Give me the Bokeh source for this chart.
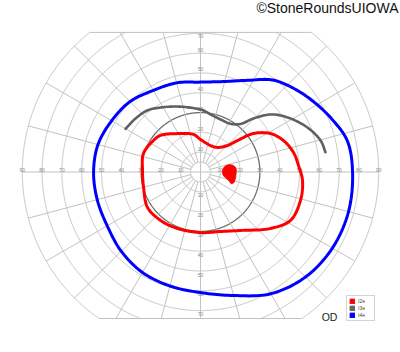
import numpy as np
from bokeh.plotting import figure
from bokeh.models import Range1d, Label, Legend, LegendItem
from bokeh.embed import file_html
from bokeh.resources import INLINE
from bokeh.core.properties import value

# ---------------- data ----------------
ring_ecc = [5, 10, 20, 40, 50, 60, 70, 80, 90]
dark_ring_ecc = [30]
meridians = list(range(0, 360, 15))
h_label_ecc = [10, 20, 30, 40, 50, 60, 70, 80, 90]
v_label_ecc = [10, 20, 30, 40, 50, 60, 70]
field_top = 70.5
field_bottom = -74.0

# I4e isopter (blue, closed): meridian in degrees, eccentricity in degrees
i4e_meridian = [0, 12, 22, 32, 42, 52, 62, 75, 90, 105, 120, 135, 150, 165, 180,
                195, 210, 225, 240, 255, 270, 285, 300, 315, 330, 345]
i4e_ecc = [76.8, 75.8, 71.5, 67.2, 63.2, 59.0, 52.5, 47.3, 45.4, 46.6, 47.6, 50.3, 51.8, 53.6, 54.0,
           54.0, 54.4, 56.6, 58.6, 59.6, 60.9, 64.6, 71.0, 75.0, 76.9, 77.4]

# I3e isopter (dark gray, open arc)
i3e_meridian = [9, 14.7, 22.6, 32.1, 39.4, 45.3, 50.2, 58, 69.1, 80, 87.2, 94.5, 109.6, 121.8, 130.9, 140.5, 150.1]
i3e_ecc = [63.9, 62.7, 58.5, 51.9, 45.8, 38.0, 31.6, 28.7, 28.4, 29.5, 31.1, 32.2, 35.1, 38.3, 41.1, 42.5, 43.7]

# I2e isopter (red, closed)
i2e_meridian = [3.8, 11.8, 20.8, 28.8, 36, 40.4, 44.5, 55.2, 69.3, 90, 100.6, 120.9, 137.6, 146.2, 162,
                178.5, 195.2, 213.8, 230.5, 247.9, 270, 288.6, 304.4, 321.1, 331.7, 344.1, 355.2]
i2e_ecc = [49.6, 48.0, 44.8, 40.3, 33.1, 24.5, 19.1, 15.1, 14.3, 16.4, 19.3, 22.6, 27.4, 28.6, 30.3,
           29.3, 29.8, 32.2, 31.7, 30.8, 30.6, 31.7, 35.8, 45.4, 51.6, 52.5, 51.7]

# blind spot (filled red), horizontal / vertical degrees
blind_x = [14.1, 16.7, 18.0, 17.9, 17.6, 16.7, 15.5, 14.6, 13.1, 11.6, 11.1, 12.1]
blind_y = [3.6, 3.2, 1.6, -1.3, -3.3, -5.5, -5.9, -4.8, -3.3, -1.8, 0.3, 2.6]

legend_labels = ["I2e", "I3e", "I4e"]
legend_colors = ["#ff0000", "#666666", "#0000ff"]

# ---------------- helpers ----------------
def polar(mer, ecc):
    m = np.radians(np.asarray(mer, dtype=float))
    e = np.asarray(ecc, dtype=float)
    return np.column_stack([e * np.cos(m), e * np.sin(m)])


def catmull(pts, closed, n=12):
    pts = np.asarray(pts, dtype=float)
    if closed:
        P = np.vstack([pts[-1], pts, pts[0], pts[1]])
    else:
        P = np.vstack([2 * pts[0] - pts[1], pts, 2 * pts[-1] - pts[-2]])
    out = []
    for i in range(1, len(P) - 2):
        p0, p1, p2, p3 = P[i - 1], P[i], P[i + 1], P[i + 2]
        t0 = 0.0
        t1 = t0 + max(np.linalg.norm(p1 - p0), 1e-6) ** 0.5
        t2 = t1 + max(np.linalg.norm(p2 - p1), 1e-6) ** 0.5
        t3 = t2 + max(np.linalg.norm(p3 - p2), 1e-6) ** 0.5
        for t in np.linspace(t1, t2, n, endpoint=False):
            A1 = (t1 - t) / (t1 - t0) * p0 + (t - t0) / (t1 - t0) * p1
            A2 = (t2 - t) / (t2 - t1) * p1 + (t - t1) / (t2 - t1) * p2
            A3 = (t3 - t) / (t3 - t2) * p2 + (t - t2) / (t3 - t2) * p3
            B1 = (t2 - t) / (t2 - t0) * A1 + (t - t0) / (t2 - t0) * A2
            B2 = (t3 - t) / (t3 - t1) * A2 + (t - t1) / (t3 - t1) * A3
            out.append((t2 - t) / (t2 - t1) * B1 + (t - t1) / (t2 - t1) * B2)
    out.append(P[-2] if not closed else P[1])
    out = np.array(out)
    return out[:, 0], out[:, 1]


def ring(r):
    th = np.radians(np.arange(0, 360.01, 0.25))
    x = r * np.cos(th)
    y = r * np.sin(th)
    bad = (y > field_top) | (y < field_bottom)
    x = np.where(bad, np.nan, x)
    y = np.where(bad, np.nan, y)
    return x, y

# ---------------- figure ----------------
S = 1.98  # px per degree
CX, CY = 200.0, 171.5
W, H = 400, 352
p = figure(width=W, height=H, output_backend="svg", toolbar_location=None,
           x_range=Range1d(-CX / S, (W - CX) / S), y_range=Range1d(-(H - CY) / S, CY / S),
           x_axis_type=None, y_axis_type=None, min_border=0)
p.outline_line_color = None
p.grid.visible = False
p.background_fill_color = "white"
p.border_fill_color = "white"

grid_col = "#c2c2c2"
for r in ring_ecc:
    x, y = ring(r)
    p.line(x, y, line_color=grid_col, line_width=1)
for r in dark_ring_ecc:
    x, y = ring(r)
    p.line(x, y, line_color="#6e6e6e", line_width=1.3)

# meridian spokes
x0s, y0s, x1s, y1s = [], [], [], []
for m in meridians:
    a = np.radians(m)
    s = np.sin(a)
    rmax = 90.0
    if s > 1e-9:
        rmax = min(rmax, field_top / s)
    elif s < -1e-9:
        rmax = min(rmax, field_bottom / s)
    r0 = 0.0 if m % 90 == 0 else 5.0
    x0s.append(r0 * np.cos(a)); y0s.append(r0 * np.sin(a))
    x1s.append(rmax * np.cos(a)); y1s.append(rmax * np.sin(a))
p.segment(x0s, y0s, x1s, y1s, line_color=grid_col, line_width=1)

# flat top / bottom frame lines
xt = np.sqrt(90 ** 2 - field_top ** 2)
xb = np.sqrt(90 ** 2 - field_bottom ** 2)
p.segment([-xt, -xb], [field_top, field_bottom], [xt, xb], [field_top, field_bottom],
          line_color=grid_col, line_width=1)

# scale labels
lab_font = value("Liberation Sans")
hx = [-e for e in h_label_ecc] + [e for e in h_label_ecc]
hy = [1.0] * len(hx)
p.text(hx, hy, text=[str(e) for e in h_label_ecc] * 2, text_font=lab_font,
       text_font_size="5px", text_color="#8a8a8a", text_align="center", text_baseline="middle")
vy_top = [min(e + 1.8, field_top - 1.6) for e in v_label_ecc]
vy_bot = [-(e + 1.8) for e in v_label_ecc]
p.text([0.0] * (2 * len(v_label_ecc)), vy_top + vy_bot, text=[str(e) for e in v_label_ecc] * 2,
       text_font=lab_font, text_font_size="5px", text_color="#8a8a8a",
       text_align="center", text_baseline="middle")

# isopters
bx, by = catmull(polar(i4e_meridian, i4e_ecc), closed=True)
p.line(bx, by, line_color="#0000ff", line_width=3, line_join="round")
gx, gy = catmull(polar(i3e_meridian, i3e_ecc), closed=False)
p.line(gx, gy, line_color="#606060", line_width=2.6, line_join="round", line_cap="round")
rx, ry = catmull(polar(i2e_meridian, i2e_ecc), closed=True)
p.line(rx, ry, line_color="#ff0000", line_width=3, line_join="round")
sx, sy = catmull(np.column_stack([blind_x, blind_y]), closed=True, n=6)
p.patch(sx, sy, fill_color="#ff0000", line_color="#ff0000", line_width=1)

# legend (square swatches); the swatch glyphs sit outside the visible range
items = []
for lab, col in zip(legend_labels, legend_colors):
    rr = p.quad(left=[500], right=[501], top=[501], bottom=[500], fill_color=col, line_color=col)
    items.append(LegendItem(label=lab, renderers=[rr]))
leg = Legend(items=items, location=(346, 31), padding=2, spacing=1, margin=0,
             glyph_width=6, glyph_height=6, label_height=6, label_width=14, label_standoff=3,
             label_text_font_size="5px", label_text_font="Liberation Sans",
             label_text_color="#444444", border_line_color="#aaaaaa", border_line_width=1,
             background_fill_color="white", background_fill_alpha=1.0)
p.add_layout(leg)

p.add_layout(Label(x=329, y=H - 316, x_units="screen", y_units="screen", text="OD",
                   text_font="Liberation Sans", text_font_size="10.5px", text_color="#222222",
                   text_align="center", text_baseline="middle"))
p.add_layout(Label(x=398, y=H - 7.5, x_units="screen", y_units="screen", text="©StoneRoundsUIOWA",
                   text_font="Liberation Sans", text_font_size="14px", text_color="#111111",
                   text_align="right", text_baseline="middle"))

open("out.html", "w").write(file_html(p, INLINE))
